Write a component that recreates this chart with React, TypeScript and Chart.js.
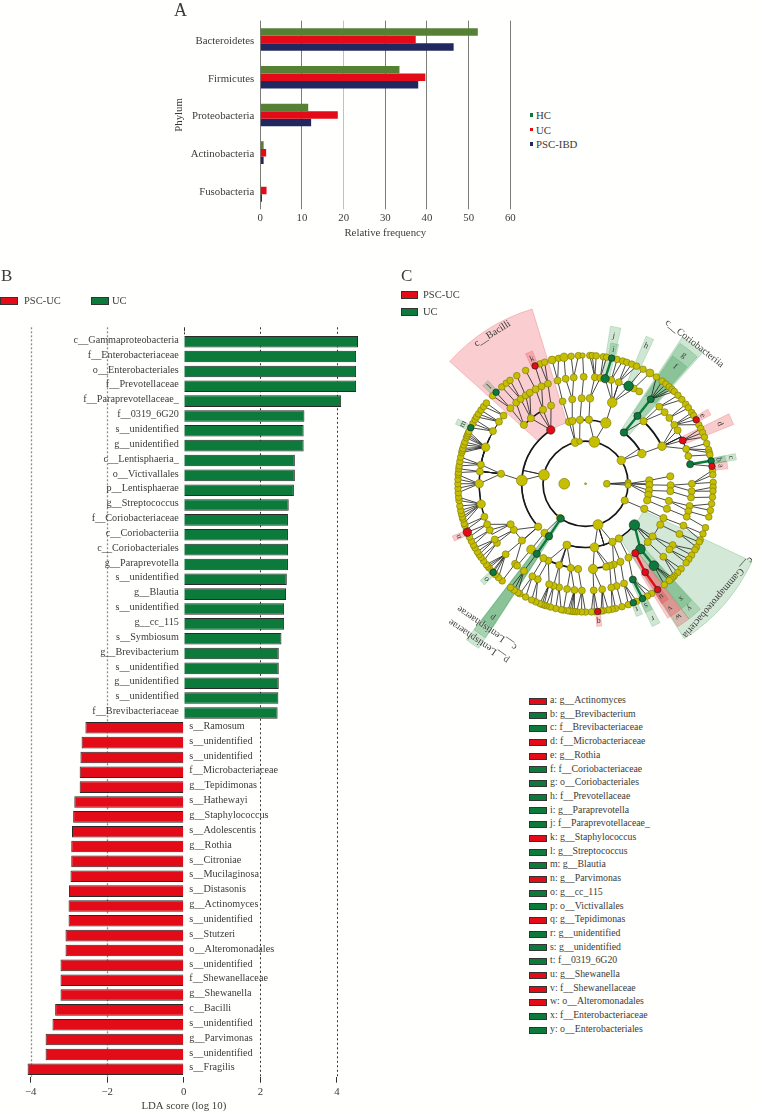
import React, { useEffect, useRef } from "react";
import { Chart, registerables } from "chart.js";

Chart.register(...registerables);

const SERIF = '"Liberation Serif", serif';
const INK = "#3b3b38";
const RED = "#e30b18";
const GREEN = "#0b7a3b";
const NAVY = "#20285f";
const OLIVE = "#568033";
const YELLOW = "#c6be00";

/* ---------- Panel A ---------- */
const phyla = ["Bacteroidetes", "Firmicutes", "Proteobacteria", "Actinobacteria", "Fusobacteria"];
const hcValues = [52.2, 33.4, 11.5, 0.8, 0.05];
const ucValues = [37.3, 39.6, 18.6, 1.4, 1.5];
const pscValues = [46.4, 37.9, 12.2, 0.8, 0.4];
const legendA = [["HC", GREEN], ["UC", RED], ["PSC-IBD", NAVY]];

/* ---------- Panel B ---------- */
const ldaLabels = [
  "c__Gammaproteobacteria", "f__Enterobacteriaceae", "o__Enterobacteriales", "f__Prevotellaceae",
  "f__Paraprevotellaceae_", "f__0319_6G20", "s__unidentified", "g__unidentified", "c__Lentisphaeria_",
  "o__Victivallales", "p__Lentisphaerae", "g__Streptococcus", "f__Coriobacteriaceae", "c__Coriobacteriia",
  "c__Coriobacteriales", "g__Paraprevotella", "s__unidentified", "g__Blautia", "s__unidentified", "g__cc_115",
  "s__Symbiosum", "g__Brevibacterium", "s__unidentified", "g__unidentified", "s__unidentified", "f__Brevibacteriaceae",
  "s__Ramosum", "s__unidentified", "s__unidentified", "f__Microbacteriaceae", "g__Tepidimonas", "s__Hathewayi",
  "g__Staphylococcus", "s__Adolescentis", "g__Rothia", "s__Citroniae", "s__Mucilaginosa", "s__Distasonis",
  "g__Actinomyces", "s__unidentified", "s__Stutzeri", "o__Alteromonadales", "s__unidentified", "f__Shewanellaceae",
  "g__Shewanella", "c__Bacilli", "s__unidentified", "g__Parvimonas", "s__unidentified", "s__Fragilis",
];
const ldaValues = [
  4.55, 4.5, 4.5, 4.5, 4.11, 3.15, 3.13, 3.13, 2.9, 2.9, 2.875, 2.74, 2.72, 2.72, 2.72, 2.72, 2.69, 2.67, 2.62, 2.62,
  2.55, 2.48, 2.48, 2.48, 2.47, 2.45,
  -2.57, -2.67, -2.7, -2.72, -2.72, -2.86, -2.89, -2.92, -2.94, -2.94, -2.96, -3.0, -3.01, -3.01, -3.09, -3.09, -3.22,
  -3.22, -3.22, -3.36, -3.43, -3.61, -3.61, -4.08,
];
const ldaTicks = [-4, -2, 0, 2, 4];

/* ---------- Panel C ---------- */
const rings = [0, 22, 44, 66, 88, 110, 132];
// [depth, parent angle (-1 = no edge), child angles], angles clockwise from north
const fans: [number, number, number[]][] = [
  [0, -1, [0]],
  [1, -1, [90, 270]],
  [2, -1, [215.5, 217, 282, 346, 352, 12, 57, 113, 163]],
  [2, 90, [88, 90, 92]],
  [3, 282, [228, 273, 327]], [3, 346, [345, 348]], [3, 352, [355]], [3, 12, [3, 18.5]], [3, 57, [37, 62]],
  [3, 90, [87, 91, 96, 100, 105]], [3, 113, [113]], [3, 163, [130, 148.5, 155, 172, 197]], [3, 217, [220]], [3, 215.5, [215]],
  [4, 228, [228.4, 237.4, 241.7]], [4, 273, [276.7]], [4, 327, [313.5, 320, 330, 336.1]], [4, 345, [344.4]], [4, 348, [351]],
  [4, 355, [357.4]], [4, 3, [3]], [4, 18.5, [18.3]], [4, 37, [37.6, 43]], [4, 62, [64]], [4, 87, [85]], [4, 91, [91]],
  [4, 96, [95]], [4, 100, [101.6]], [4, 105, [107]], [4, 113, [113.6]], [4, 130, [118.6, 128, 133, 139.8, 144.2]],
  [4, 148.5, [149.7]], [4, 155, [155.8, 160.7]], [4, 172, [163.5, 166, 175]], [4, 197, [185, 190, 198, 206, 209.7]],
  [4, 215, [215]], [4, 220, [219.8]],
  [5, 228.4, [221.5, 228.7]], [5, 237.4, [236.4, 238.6]], [5, 241.7, [244.3, 247.7, 252]],
  [5, 276.7, [259, 270, 276.6, 280.3, 290, 299.5, 305.5, 309.6]], [5, 313.5, [315, 319.3]], [5, 320, [322.4, 325.7, 328.4]],
  [5, 330, [332, 335.6]], [5, 336.1, [339.3]], [5, 344.4, [344.8]], [5, 351, [349.2, 353.6]], [5, 357.4, [359]], [5, 3, [5, 8]],
  [5, 18.3, [10.6, 14, 18.2, 23.9, 27, 30.3]], [5, 37.6, [37.8]], [5, 43, [43.9, 48]], [5, 64, [52, 56.6, 60, 66.1, 71, 75, 79.5]],
  [5, 91, [90, 94]], [5, 95, [97.4]], [5, 101.6, [102, 104.9]], [5, 107, [108]], [5, 113.6, [113]], [5, 118.6, [118]],
  [5, 128, [125, 127.9]], [5, 133, [133]], [5, 139.8, [140]], [5, 144.2, [145.9]], [5, 149.7, [153.6]], [5, 155.8, [158.8]],
  [5, 160.7, [163]], [5, 163.5, [166]], [5, 175, [171, 175.6]], [5, 185, [182]], [5, 190, [186, 190]], [5, 198, [194.4, 197.5]],
  [5, 206, [200, 206.7]], [5, 209.7, [210]], [5, 215, [215.4]], [5, 219.8, [220]],
  [6, 315, [313.3, 315.5]], [6, 319.3, [319]], [6, 322.4, [321.6, 323.7]], [6, 325.7, [327.4]], [6, 332, [332]], [6, 335.6, [336.7]],
  [6, 339.3, [339.1, 341.3]], [6, 344.8, [344.8, 347.8]], [6, 349.2, [350.3]], [6, 353.6, [353.5, 356.8]], [6, 359, [358.7]],
  [6, 5, [1.9, 3, 4.8]], [6, 8, [8, 9.5]], [6, 10.6, [11.8]], [6, 14, [14.3, 16.9]], [6, 18.2, [18.8, 21.2, 23.6]], [6, 23.9, [26.8]],
  [6, 27, [30.3]], [6, 37.8, [33.7, 36.9, 39, 41, 42.6, 44]], [6, 43.9, [46.4, 49]], [6, 52, [51.7, 53.7]],
  [6, 56.6, [56.3, 57.9, 60.1, 62.6]], [6, 66.1, [64.5, 66.5, 68.7]], [6, 71, [71.7, 74.6, 76]], [6, 75, [77]], [6, 79.5, [79.7, 82.2]],
  [6, 90, [84, 86, 89.4]], [6, 94, [91.5, 93.3]], [6, 97.4, [96]], [6, 102, [99, 102]], [6, 104.9, [105]], [6, 108, [110]],
  [6, 113, [113, 116]], [6, 118, [117, 119.6]], [6, 125, [121, 123.8]], [6, 127.9, [126, 128]], [6, 133, [131.5, 133.8, 136]],
  [6, 140, [137, 138, 139, 141.9]], [6, 145.9, [145.6]], [6, 153.6, [148.8, 151, 153.5]], [6, 158.8, [156.4, 158, 160.4]], [6, 163, [163.4]],
  [6, 166, [166.4, 168]], [6, 171, [169.7, 172, 173]], [6, 175.6, [174.5, 176, 177.4]], [6, 182, [180, 181.8, 184]],
  [6, 186, [185, 186, 187, 188]], [6, 190, [190]], [6, 194.4, [191, 193.5]], [6, 197.5, [196, 198]], [6, 200, [199, 200, 201]],
  [6, 206.7, [203, 205]], [6, 210, [208, 211]], [6, 215.4, [212, 214, 216]], [6, 221.5, [220.8]],
  [6, 228.7, [223, 225, 226.3, 227, 229, 230, 231]], [6, 236.4, [233, 235]], [6, 238.6, [236.5, 238, 240]], [6, 244.3, [241.5, 243.5]],
  [6, 247.7, [245.5, 247.8]], [6, 252, [249, 251]], [6, 259, [252, 254, 255, 256.5, 258, 260, 262.5, 264]],
  [6, 270, [266, 268, 270, 272, 274]], [6, 276.6, [275, 276.7]], [6, 280.3, [278, 280, 282]],
  [6, 290, [284, 285, 286, 287.6, 289, 291, 292, 293, 294]], [6, 299.5, [295.9, 298, 300]], [6, 305.5, [301.4, 303, 305]], [6, 309.6, [307, 309]],
];
const redNodes: [number, number][] = [[3, 327], [6, 336.7], [6, 60.1], [5, 66.1], [6, 82.2], [4, 144.2], [5, 145.9], [6, 145.6], [6, 174.5], [6, 247.8]];
const greenNodes: [number, number][] = [
  [3, 130], [4, 139.8], [5, 140], [5, 10.6], [6, 11.8], [5, 23.9], [6, 315.5], [6, 295.9], [6, 226.3], [3, 37], [4, 37.6], [5, 37.8],
  [5, 79.5], [6, 79.7], [2, 215.5], [3, 215], [4, 215], [5, 153.6], [6, 153.5], [6, 158],
];
const nodeSizes: [number, number, number][] = [
  [0, 0, 1], [1, 270, 5.4], [1, 90, 3.4], [2, 88, 3], [2, 90, 3.2], [2, 92, 3], [2, 282, 5.4], [2, 12, 5.4], [2, 163, 5], [2, 57, 4.2], [2, 346, 4.2],
  [2, 352, 2.8], [3, 273, 5.4], [3, 18.5, 5.2], [3, 172, 4.4], [3, 197, 4], [3, 62, 4.2], [3, 327, 4.2], [3, 130, 5.2], [4, 18.3, 4.8], [4, 175, 4.6],
  [4, 219.8, 4.4], [4, 64, 4.2], [4, 3, 3.8], [4, 139.8, 4.8], [5, 259, 4.2], [5, 270, 4.2], [5, 290, 4.2], [5, 10.6, 4.2], [5, 23.9, 4.8], [5, 140, 4.8],
  [6, 350.3, 4.2], [6, 344.8, 3.9], [6, 30.3, 4], [6, 247.8, 4.2], [6, 358.7, 2.6], [4, 344.4, 3.4], [5, 332, 3.6],
];
// [ring radius, from angle, to angle, line width]
const arcs: [number, number, number, number][] = [
  [44, 0, 360, 1.7], [66, 228, 327, 1.7], [66, 354, 378.5, 1.5], [66, 37, 62, 1.8], [66, 130, 197, 1.5], [88, 185, 210, 1.6],
  [88, 160, 175, 1.5], [88, 313.5, 330, 1.5], [88, 43, 64, 1.8], [110, 250, 296, 1.5],
];
// [tone, inner radius, outer radius, from angle, to angle, letter, letter radius]
const sectors: [string, number, number, number, number, string, number][] = [
  ["pale-r", 66, 189, 312, 343, "", 0],
  ["pale-g", 66, 190, 115, 147.5, "", 0],
  ["g", 66, 182, 33.4, 41.8, "", 0], ["g", 88, 175, 33.9, 41.3, "g", 167], ["g", 110, 160, 34.3, 40.9, "f", 152],
  ["g", 44, 203, 213, 217.4, "", 0], ["g", 66, 190, 213, 217.4, "", 0], ["g", 88, 177, 212.8, 217.2, "p", 168],
  ["g", 88, 176, 137.5, 142.6, "y", 167], ["g", 110, 163, 137.8, 142.4, "x", 154],
  ["r", 88, 176, 142.6, 147.2, "w", 167], ["r", 110, 163, 143, 148.6, "v", 155], ["r", 132, 147, 144.4, 147.6, "u", 140],
  ["r", 133, 148, 81, 84, "a", 141], ["g", 133, 147, 78.6, 81, "b", 140], ["g", 134, 158, 78.6, 81, "c", 153],
  ["r", 112, 165, 64, 68.2, "d", 152], ["r", 134, 148, 58.6, 61.2, "e", 140], ["g", 110, 165, 22.3, 25.3, "h", 155],
  ["g", 132, 148, 10.2, 13.4, "i", 141], ["g", 110, 165, 9, 12.8, "j", 155], ["r", 134, 148, 335.2, 338.2, "k", 140],
  ["g", 134, 147, 313.6, 316.6, "l", 141], ["g", 134, 148, 294.6, 297, "m", 141], ["r", 134, 148, 246.4, 248.6, "n", 142],
  ["g", 133, 148, 225, 227.4, "o", 142], ["r", 134, 148, 173.5, 175.5, "q", 142], ["g", 110, 163, 151.8, 155, "r", 155],
  ["g", 132, 147, 152, 155, "s", 140], ["g", 132, 147, 156.4, 159, "t", 139],
];
// [text, radius, angle]
const cladeNames: [string, number, number][] = [
  ["c__Bacilli", 182, 328], ["c__Coriobacteriia", 183, 38], ["c__Gammaproteobacteria", 180, 130.5],
  ["c__Lentisphaerae", 180, 214.5], ["p__Lentisphaerae", 196, 214.3],
];
const legendC = [
  ["a: g__Actinomyces", RED], ["b: g__Brevibacterium", GREEN], ["c: f__Brevibacteriaceae", GREEN], ["d: f__Microbacteriaceae", RED],
  ["e: g__Rothia", RED], ["f: f__Coriobacteriaceae", GREEN], ["g: o__Coriobacteriales", GREEN], ["h: f__Prevotellaceae", GREEN],
  ["i: g__Paraprevotella", GREEN], ["j: f__Paraprevotellaceae_", GREEN], ["k: g__Staphylococcus", RED], ["l: g__Streptococcus", GREEN],
  ["m: g__Blautia", GREEN], ["n: g__Parvimonas", RED], ["o: g__cc_115", GREEN], ["p: o__Victivallales", GREEN], ["q: g__Tepidimonas", RED],
  ["r: g__unidentified", GREEN], ["s: g__unidentified", GREEN], ["t: f__0319_6G20", GREEN], ["u: g__Shewanella", RED],
  ["v: f__Shewanellaceae", RED], ["w: o__Alteromonadales", RED], ["x: f__Enterobacteriaceae", GREEN], ["y: o__Enterobacteriales", GREEN],
];
const groups = [["PSC-UC", RED], ["UC", GREEN]];

const rad = (d: number) => (d * Math.PI) / 180;
const polar = (r: number, a: number) => ({ x: r * Math.sin(rad(a)), y: r * Math.cos(rad(a)) });
const key = (d: number, a: number) => `${d}:${a}`;
const redSet = new Set(redNodes.map(([d, a]) => key(d, a)));
const greenSet = new Set(greenNodes.map(([d, a]) => key(d, a)));
const sizeMap = new Map(nodeSizes.map(([d, a, s]) => [key(d, a), s]));
const defaultSize = [1, 3.4, 3.6, 3.7, 3.6, 3.5, 3.3];
const nodeTone = (k: string) => (redSet.has(k) ? RED : greenSet.has(k) ? GREEN : YELLOW);

const tones: Record<string, [string, string]> = {
  "pale-r": ["rgba(240,120,130,0.36)", "rgba(235,110,120,0.55)"],
  "pale-g": ["rgba(70,160,90,0.24)", "rgba(70,160,90,0.4)"],
  g: ["rgba(30,140,60,0.22)", "rgba(30,140,60,0.28)"],
  r: ["rgba(230,40,50,0.24)", "rgba(230,40,50,0.3)"],
};

const cladePlugin = {
  id: "clade",
  beforeDatasetsDraw(chart: any) {
    const { ctx, scales } = chart;
    const cx = scales.x.getPixelForValue(0);
    const cy = scales.y.getPixelForValue(0);
    const len = (r: number) => scales.x.getPixelForValue(r) - cx;
    const at = (r: number, a: number) => {
      const p = polar(r, a);
      return [scales.x.getPixelForValue(p.x), scales.y.getPixelForValue(p.y)];
    };
    ctx.save();
    for (const [tone, r0, r1, a0, a1] of sectors) {
      ctx.beginPath();
      ctx.arc(cx, cy, len(r1), rad(a0 - 90), rad(a1 - 90));
      ctx.arc(cx, cy, len(r0), rad(a1 - 90), rad(a0 - 90), true);
      ctx.closePath();
      ctx.fillStyle = tones[tone][0];
      ctx.strokeStyle = tones[tone][1];
      ctx.lineWidth = 0.7;
      ctx.fill();
      ctx.stroke();
    }
    for (const [r, a0, a1, w] of arcs) {
      ctx.beginPath();
      ctx.arc(cx, cy, len(r), rad(a0 - 90), rad(a1 - 90));
      ctx.strokeStyle = "#151515";
      ctx.lineWidth = w;
      ctx.stroke();
    }
    for (const [d, pa, kids] of fans) {
      if (pa < 0 || d < 1) continue;
      const from = at(rings[d - 1], pa);
      const pk = nodeTone(key(d - 1, pa));
      for (const a of kids) {
        const to = at(rings[d], a);
        const ck = nodeTone(key(d, a));
        const lit = ck === pk && ck !== YELLOW;
        ctx.beginPath();
        ctx.moveTo(from[0], from[1]);
        if (d < 6 && Math.abs(a - pa) > 10) {
          // long branches leave radially, then run along the child's ring
          const knee = at(rings[d], pa);
          ctx.lineTo(knee[0], knee[1]);
          ctx.arc(cx, cy, len(rings[d]), rad(pa - 90), rad(a - 90), a < pa);
        } else {
          ctx.lineTo(to[0], to[1]);
        }
        ctx.strokeStyle = lit ? ck : "#1c1c1c";
        ctx.lineWidth = lit ? 2.4 : 0.8;
        ctx.stroke();
      }
    }
    ctx.restore();
  },
  afterDatasetsDraw(chart: any) {
    const { ctx, scales } = chart;
    const at = (r: number, a: number) => {
      const p = polar(r, a);
      return [scales.x.getPixelForValue(p.x), scales.y.getPixelForValue(p.y)];
    };
    const put = (text: string, r: number, a: number, size: number) => {
      const [x, y] = at(r, a);
      ctx.save();
      ctx.translate(x, y);
      ctx.rotate(rad(a));
      ctx.font = `${size}px ${SERIF}`;
      ctx.fillStyle = INK;
      ctx.textAlign = "center";
      ctx.textBaseline = "middle";
      ctx.fillText(text, 0, 0);
      ctx.restore();
    };
    for (const s of sectors) if (s[5]) put(s[5], s[6], (s[3] + s[4]) / 2, 8.5);
    for (const [t, r, a] of cladeNames) put(t, r, a, 10);
  },
};

const ldaPlugin = {
  id: "lda",
  beforeDatasetsDraw(chart: any) {
    const { ctx, scales, chartArea } = chart;
    ctx.save();
    for (const t of ldaTicks) {
      const x = Math.round(scales.x.getPixelForValue(t)) + 0.5;
      ctx.beginPath();
      ctx.moveTo(x, chartArea.top - 7);
      ctx.lineTo(x, t === 0 ? chartArea.top : chartArea.bottom);
      ctx.setLineDash(t === 0 ? [4, 1] : t < 0 ? [2, 2] : [2, 2.5]);
      ctx.lineWidth = t < 0 ? 1.3 : 1;
      ctx.strokeStyle = t < 0 ? "#8a8a86" : "#333";
      ctx.stroke();
    }
    ctx.restore();
  },
  afterDatasetsDraw(chart: any) {
    const { ctx, scales, chartArea } = chart;
    const zero = scales.x.getPixelForValue(0);
    ctx.save();
    ctx.font = `10.2px ${SERIF}`;
    ctx.fillStyle = INK;
    ctx.textBaseline = "middle";
    ldaLabels.forEach((label, i) => {
      const y = scales.y.getPixelForValue(i) - 1.5;
      const positive = ldaValues[i] > 0;
      ctx.textAlign = positive ? "right" : "left";
      ctx.fillText(label, positive ? zero - 5 : zero + 5.5, y);
    });
    ctx.font = `10.8px ${SERIF}`;
    ctx.textAlign = "center";
    ctx.fillText("LDA score (log 10)", zero, chartArea.bottom + 29.5);
    ctx.restore();
  },
};

function Text({ x, y, size = 10.5, children }: any) {
  return (
    <div style={{ position: "absolute", left: x, top: y, transform: "translateY(-50%)", font: `${size}px ${SERIF}`, color: INK, whiteSpace: "nowrap", lineHeight: 1 }}>
      {children}
    </div>
  );
}

function Swatch({ x, y, w, h, color, edge = true }: any) {
  return (
    <div style={{ position: "absolute", left: x, top: y - h / 2, width: w, height: h, background: color, boxSizing: "border-box", border: edge ? "1px solid #333" : "none" }} />
  );
}

export default function App() {
  const aRef = useRef<HTMLCanvasElement>(null);
  const bRef = useRef<HTMLCanvasElement>(null);
  const cRef = useRef<HTMLCanvasElement>(null);

  useEffect(() => {
    const font = { family: SERIF, size: 10.8 };
    const common = { animation: false as const, responsive: false, devicePixelRatio: 1, events: [] as any[] };

    const a = new Chart(aRef.current!, {
      type: "bar",
      data: {
        labels: phyla,
        datasets: [
          { label: "HC", data: hcValues, backgroundColor: OLIVE },
          { label: "UC", data: ucValues, backgroundColor: RED },
          { label: "PSC-IBD", data: pscValues, backgroundColor: NAVY },
        ],
      },
      options: {
        ...common,
        indexAxis: "y",
        layout: { padding: { top: 20.6, right: 9.7 } },
        datasets: { bar: { categoryPercentage: 0.6, barPercentage: 1 } },
        plugins: { legend: { display: false }, tooltip: { enabled: false } },
        scales: {
          x: {
            min: 0, max: 60,
            ticks: { stepSize: 10, color: INK, font, padding: 2, maxRotation: 0 },
            border: { display: false },
            grid: { color: (c: any) => (c.tick.value === 20 ? "#c2c2bd" : "#7c7c78"), tickLength: 0, lineWidth: 1 },
            title: { display: true, text: "Relative frequency", color: INK, font, padding: { top: 0, bottom: 0 } },
            afterFit: (s: any) => { s.height = 30.7; },
          },
          y: {
            ticks: { color: INK, font, padding: 6, labelOffset: 1.5 },
            border: { display: false },
            grid: { display: false, drawTicks: false },
            title: { display: true, text: "Phylum", color: INK, font, padding: { top: 13, bottom: 0 } },
            afterFit: (s: any) => { s.width = 100.3; },
          },
        },
      },
    } as any);

    const b = new Chart(bRef.current!, {
      type: "bar",
      data: {
        labels: ldaLabels.map((_, i) => String(i)),
        datasets: [
          {
            data: ldaValues,
            backgroundColor: ldaValues.map((v) => (v > 0 ? GREEN : RED)),
            borderColor: "#2a2a2a",
            borderWidth: 1,
            categoryPercentage: 0.78,
            barPercentage: 1,
          },
        ],
      },
      options: {
        ...common,
        indexAxis: "y",
        layout: { padding: { top: 64.3, left: 23, right: 2.4 } },
        plugins: { legend: { display: false }, tooltip: { enabled: false } },
        scales: {
          x: {
            min: -4.2, max: 4.8,
            afterBuildTicks: (s: any) => { s.ticks = ldaTicks.map((value) => ({ value })); },
            ticks: { color: INK, font, padding: 3, maxRotation: 0, callback: (v: any) => String(v).replace("-", "\u2212") },
            border: { display: false },
            grid: { drawOnChartArea: false, tickLength: 6, color: "#333" },
            afterFit: (s: any) => { s.height = 35.3; },
          },
          y: { display: false },
        },
      },
      plugins: [ldaPlugin],
    } as any);

    const points: { x: number; y: number }[] = [];
    const radii: number[] = [];
    const fills: string[] = [];
    const nodes: [number, number][] = [];
    fans.forEach(([d, , kids]) => kids.forEach((k) => nodes.push([d, k])));
    nodes.sort((p, q) => (nodeTone(key(p[0], p[1])) === YELLOW ? 0 : 1) - (nodeTone(key(q[0], q[1])) === YELLOW ? 0 : 1));
    for (const [d, k] of nodes) {
      const id = key(d, k);
      points.push(polar(rings[d], k));
      radii.push(sizeMap.get(id) ?? defaultSize[d]);
      fills.push(nodeTone(id));
    }

    const c = new Chart(cRef.current!, {
      type: "scatter",
      data: {
        datasets: [
          {
            data: points,
            pointRadius: radii,
            pointBackgroundColor: fills,
            pointBorderColor: fills.map((f) => (f === YELLOW ? "#77750f" : "#1f1f1f")),
            pointBorderWidth: 0.6,
            showLine: false,
            clip: false,
          },
        ],
      },
      options: {
        ...common,
        layout: { padding: 0 },
        plugins: { legend: { display: false }, tooltip: { enabled: false } },
        scales: {
          x: { type: "linear", min: -185.7, max: 176.3, display: false },
          y: { type: "linear", min: -206, max: 224, display: false },
        },
      },
      plugins: [cladePlugin],
    } as any);

    return () => {
      a.destroy();
      b.destroy();
      c.destroy();
    };
  }, []);

  return (
    <div style={{ position: "absolute", left: 0, top: 0, width: 762, height: 1112, background: "#fffffd", overflow: "hidden" }}>
      <canvas ref={aRef} width={360} height={240} style={{ position: "absolute", left: 160, top: 0 }} />
      <canvas ref={bRef} width={370} height={842} style={{ position: "absolute", left: 0, top: 270 }} />
      <canvas ref={cRef} width={362} height={430} style={{ position: "absolute", left: 400, top: 260 }} />

      <Text x={174} y={10} size={18}>A</Text>
      <Text x={1} y={275} size={17}>B</Text>
      <Text x={401} y={275} size={17}>C</Text>

      {legendA.map(([name, color], i) => (
        <React.Fragment key={name}>
          <Swatch x={529.5} y={115 + i * 14.5} w={3.6} h={3.6} color={color} edge={false} />
          <Text x={536} y={115 + i * 14.5} size={10.8}>{name}</Text>
        </React.Fragment>
      ))}

      {groups.map(([name, color], i) => (
        <React.Fragment key={name}>
          <Swatch x={i ? 91 : 0} y={301} w={18} h={7.5} color={color} />
          <Text x={i ? 112 : 24} y={301}>{name}</Text>
          <Swatch x={401} y={295 + i * 17} w={17} h={7.5} color={color} />
          <Text x={423} y={295 + i * 17}>{name}</Text>
        </React.Fragment>
      ))}

      {legendC.map(([name, color], i) => (
        <React.Fragment key={name}>
          <Swatch x={529} y={701.3 + i * 13.7} w={18} h={7} color={color} />
          <Text x={550} y={700 + i * 13.7} size={9.8}>{name}</Text>
        </React.Fragment>
      ))}
    </div>
  );
}
